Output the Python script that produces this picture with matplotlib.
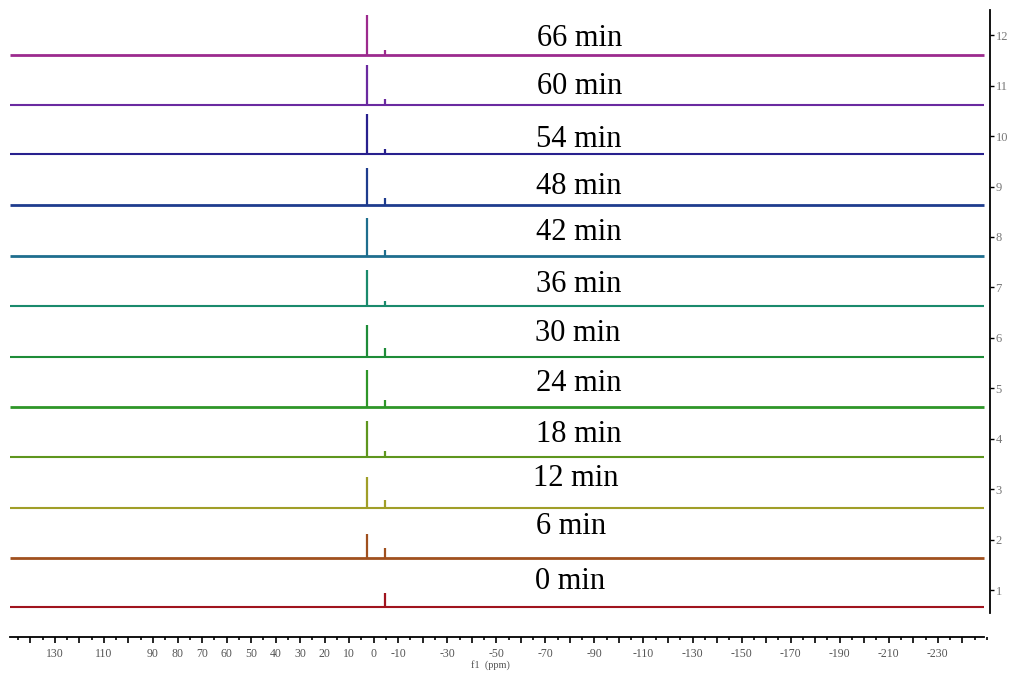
import matplotlib
matplotlib.use("Agg")
import matplotlib.pyplot as plt
from matplotlib.ticker import MultipleLocator

# Reaction times and stacked 1D spectra (ppm scale)
times = ["0 min", "6 min", "12 min", "18 min", "24 min", "30 min",
         "36 min", "42 min", "48 min", "54 min", "60 min", "66 min"]
baselines = [0.66, 1.64, 2.63, 3.63, 4.62, 5.63, 6.63, 7.62, 8.64, 9.64, 10.62, 11.60]
peak1_ppm = 2.6
peak2_ppm = -4.5
peak1_height = [0.00, 0.48, 0.61, 0.73, 0.75, 0.63, 0.71, 0.75, 0.73, 0.79, 0.79, 0.81]
peak2_height = [0.28, 0.20, 0.16, 0.13, 0.14, 0.16, 0.11, 0.13, 0.13, 0.10, 0.12, 0.10]
colors = ["#A0141E", "#A0501E", "#A09E28", "#5E961E", "#2E9628", "#1E8C38",
          "#1A8A6C", "#1E6E8E", "#1E3C8E", "#28208E", "#6A2AA0", "#9C2A8E"]
noisy = [False, True, False, False, True, False, False, True, True, False, False, True]

x_major_labels = [130, 110, 90, 80, 70, 60, 50, 40, 30, 20, 10, 0, -10, -30, -50,
                  -70, -90, -110, -130, -150, -170, -190, -210, -230]
y_ticks = list(range(1, 13))

# label placement (ppm, stack units)
label_x = [-80.0, -80.5, -82.5, -83.5, -83.5, -83.0, -83.5, -83.5, -83.5, -83.5, -83.9, -83.9]
label_y = [1.18, 2.26, 3.22, 4.09, 5.10, 6.09, 7.06, 8.08, 9.01, 9.94, 10.99, 11.94]

serif = "Liberation Serif"
W, H = 1012, 674
fig = plt.figure(figsize=(W / 100, H / 100), dpi=100)
ax = fig.add_axes([10 / W, (H - 637) / H, 980 / W, 627 / H])

x_left, x_right, x_spine = 148.3, -249.0, -251.3
ax.set_xlim(x_left, x_spine)
ax.set_ylim(0.07, 12.5)

for i in range(len(times)):
    c = colors[i]
    lw = 2.0 if noisy[i] else 1.5
    b = baselines[i]
    ax.hlines(b, x_left, x_right, color=c, lw=lw)
    if peak1_height[i] > 0:
        ax.vlines(peak1_ppm, b, b + peak1_height[i], color=c, lw=1.6)
    ax.vlines(peak2_ppm, b, b + peak2_height[i], color=c, lw=1.6)
    ax.text(label_x[i], label_y[i], times[i], fontsize=22, family=serif,
            ha="center", va="center", color="black")

# spines
for s in ["top", "left"]:
    ax.spines[s].set_visible(False)
ax.spines["bottom"].set_bounds(x_left, x_right)
ax.spines["bottom"].set_linewidth(1.3)
ax.spines["right"].set_bounds(0.54, 12.5)
ax.spines["right"].set_linewidth(1.3)

# x axis ticks
ax.xaxis.set_minor_locator(MultipleLocator(5))
major_pos = list(range(140, -250, -10))
ax.set_xticks(major_pos)
ax.set_xticklabels([str(v) if v in x_major_labels else "" for v in major_pos])
ax.tick_params(axis="x", which="major", direction="out", length=4, width=1.2,
               labelsize=8.5, labelcolor="#555555", pad=4)
ax.tick_params(axis="x", which="minor", direction="out", length=2, width=1.2)
for t in ax.get_xticklabels():
    t.set_family(serif)
ax.set_xlabel("f1  (ppm)", fontsize=7.5, family=serif, color="#555555")
ax.xaxis.set_label_coords((490 - 10) / 980, -0.037)

# right stack axis
ax.yaxis.tick_right()
ax.set_yticks(y_ticks)
ax.set_yticklabels([str(v) for v in y_ticks])
ax.tick_params(axis="y", direction="out", length=3, width=1.0, labelsize=9,
               labelcolor="#777777", pad=1)
for t in ax.get_yticklabels():
    t.set_family(serif)

fig.savefig("out.png", dpi=100)
